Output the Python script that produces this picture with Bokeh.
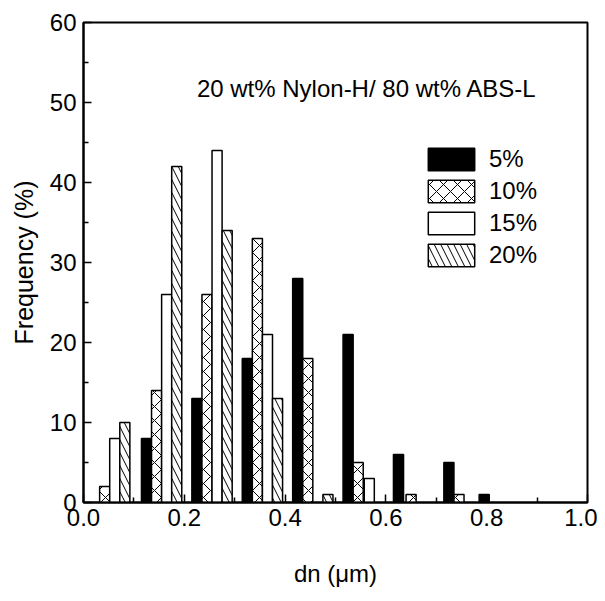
from bokeh.plotting import figure
from bokeh.models import Range1d, Label, Legend, LegendItem, FixedTicker, PrintfTickFormatter
from bokeh.embed import file_html
from bokeh.resources import INLINE

# ---- data ----
x5 = [0.125, 0.225, 0.325, 0.425, 0.525, 0.625, 0.725, 0.795]
f5 = [8, 13, 18, 28, 21, 6, 5, 1]
x10 = [0.042, 0.145, 0.245, 0.345, 0.445, 0.545, 0.650, 0.745]
f10 = [2, 14, 26, 33, 18, 5, 1, 1]
x15 = [0.062, 0.165, 0.265, 0.365, 0.567]
f15 = [8, 26, 44, 21, 3]
x20 = [0.082, 0.185, 0.285, 0.385, 0.485]
f20 = [10, 42, 34, 13, 1]
series_labels = ["5%", "10%", "15%", "20%"]
x_ticks = [0.0, 0.2, 0.4, 0.6, 0.8, 1.0]
y_ticks = [0, 10, 20, 30, 40, 50, 60]
annotation = "20 wt% Nylon-H/ 80 wt% ABS-L"

FONT = "Liberation Sans"

p = figure(width=597, height=590, output_backend="svg", toolbar_location=None,
           x_range=Range1d(0, 1.0), y_range=Range1d(0, 60),
           min_border_left=83, min_border_right=10, min_border_top=22, min_border_bottom=88)
p.grid.visible = False
p.background_fill_color = "white"
p.outline_line_color = "black"
p.outline_line_width = 2

bw = 0.02
r5 = p.vbar(x=x5, top=f5, bottom=0, width=bw, fill_color="black", line_color="black", line_width=1.5)
r10 = p.vbar(x=x10, top=f10, bottom=0, width=bw, fill_color="white", line_color="black", line_width=1.5,
             hatch_pattern="x", hatch_color="black", hatch_scale=14, hatch_weight=1)
r15 = p.vbar(x=x15, top=f15, bottom=0, width=bw, fill_color="white", line_color="black", line_width=1.5)
r20 = p.vbar(x=x20, top=f20, bottom=0, width=bw, fill_color="white", line_color="black", line_width=1.5,
             hatch_pattern="\\", hatch_color="black", hatch_scale=13, hatch_weight=1)

legend = Legend(items=[LegendItem(label=series_labels[0], renderers=[r5]),
                       LegendItem(label=series_labels[1], renderers=[r10]),
                       LegendItem(label=series_labels[2], renderers=[r15]),
                       LegendItem(label=series_labels[3], renderers=[r20])],
                location=(339, 233), glyph_width=58, glyph_height=28, spacing=4,
                padding=0, margin=0, label_standoff=9, border_line_color=None,
                background_fill_alpha=0, label_text_font=FONT, label_text_font_size="24px",
                label_text_color="black", label_height=28)
p.add_layout(legend)

p.add_layout(Label(x=0.225, y=51.8, text=annotation, text_font=FONT, text_font_size="24px",
                   text_baseline="middle", text_color="black"))

for ax in (p.xaxis[0], p.yaxis[0]):
    ax.axis_line_width = 2
    ax.axis_line_color = "black"
    ax.major_tick_in = 8
    ax.major_tick_out = 0
    ax.minor_tick_in = 5
    ax.minor_tick_out = 0
    ax.major_tick_line_width = 1.5
    ax.minor_tick_line_width = 1.5
    ax.major_label_text_font = FONT
    ax.major_label_text_font_size = "24px"
    ax.major_label_text_color = "black"
    ax.axis_label_text_font = FONT
    ax.axis_label_text_font_style = "normal"
    ax.axis_label_text_color = "black"

p.xaxis.axis_label_text_font_size = "24px"
p.yaxis.axis_label_text_font_size = "25px"
p.xaxis.ticker = FixedTicker(ticks=x_ticks, minor_ticks=[0.1, 0.3, 0.5, 0.7, 0.9])
p.xaxis.formatter = PrintfTickFormatter(format="%.1f")
p.yaxis.ticker = FixedTicker(ticks=y_ticks, minor_ticks=[5, 15, 25, 35, 45, 55])
p.xaxis.axis_label = "dn (\u03bcm)"
p.yaxis.axis_label = "Frequency (%)"
p.xaxis.major_label_standoff = 6
p.yaxis.major_label_standoff = 7
p.xaxis.axis_label_standoff = 31
p.yaxis.axis_label_standoff = 9

open("out.html", "w").write(file_html(p, INLINE))
